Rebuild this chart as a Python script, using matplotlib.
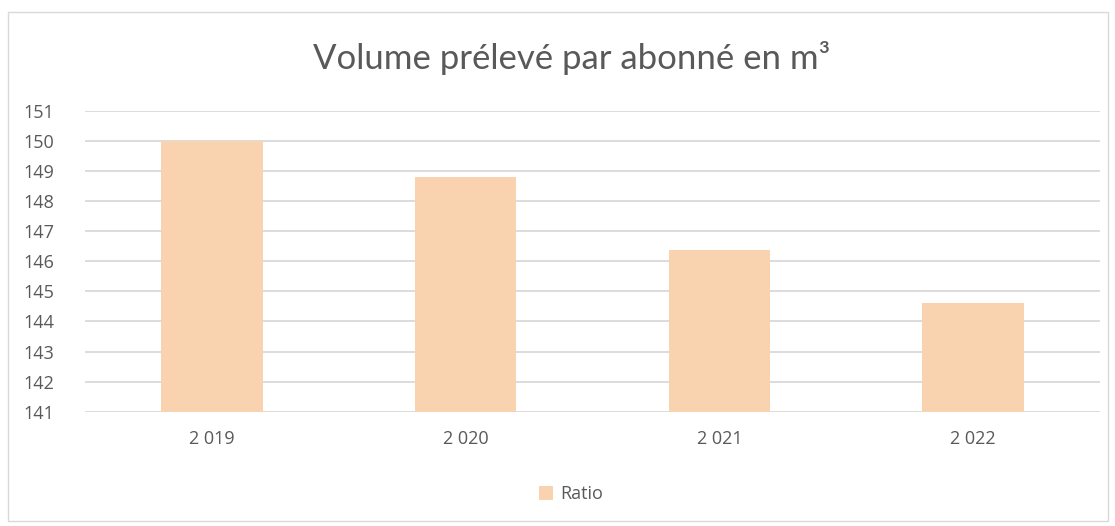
import matplotlib.pyplot as plt
from matplotlib.patches import Rectangle

plt.rcParams['font.family'] = ['Open Sans', 'DejaVu Sans']

# donnees
annees = ['2 019', '2 020', '2 021', '2 022']
ratio = [150.0, 148.82, 146.38, 144.61]
yticks = list(range(141, 152))

bar_color = '#F9D2B0'
text_color = '#595959'
grid_color = '#D9D9D9'

fig = plt.figure(figsize=(11.15, 5.26), dpi=100)
# cadre du graphique
fig.patches.append(Rectangle((8 / 1115, 5 / 526), 1100 / 1115, 509 / 526,
                             transform=fig.transFigure, fill=False,
                             edgecolor='#D9D9D9', linewidth=1))

ax = fig.add_axes([85 / 1115, 1 - 411.7 / 526, 1015 / 1115, 300.7 / 526])
x = range(len(annees))
ax.bar(x, [v - 141 for v in ratio], bottom=141, width=0.4, color=bar_color,
       label='Ratio', zorder=2)
ax.set_xlim(-0.5, len(annees) - 0.5)
ax.set_ylim(141, 151)
ax.set_yticks(yticks)
ax.set_xticks(list(x))
ax.set_xticklabels(annees)
ax.yaxis.grid(True, color=grid_color, linewidth=1.3, zorder=0)
for s in ax.spines.values():
    s.set_visible(False)
ax.tick_params(axis='both', length=0, colors=text_color, labelsize=13)
ax.tick_params(axis='y', pad=22)
ax.tick_params(axis='x', pad=13)
for lbl in ax.get_yticklabels():
    lbl.set_horizontalalignment('right')

fig.text(0.513, 1 - 58 / 526, 'Volume prélevé par abonné en m³', ha='center',
         va='center', fontsize=25, color=text_color,
         family=['Lato', 'DejaVu Sans'])

fig.legend(loc='center', bbox_to_anchor=(0.512, 1 - 494 / 526), frameon=False,
           fontsize=13, labelcolor=text_color, handlelength=0.8, handleheight=0.8,
           handletextpad=0.4)

fig.savefig('out.png', dpi=100, facecolor='white')
